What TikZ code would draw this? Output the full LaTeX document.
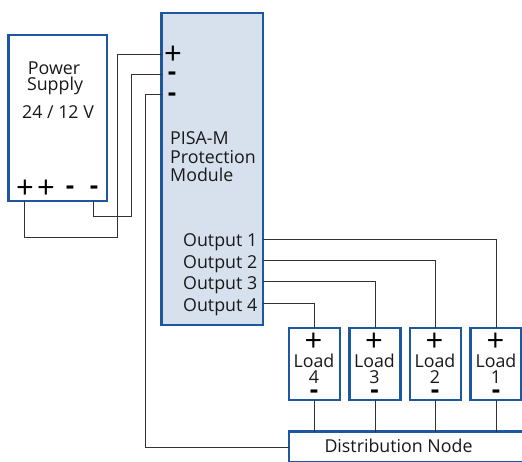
\documentclass[tikz,border=0pt]{standalone}
\usepackage{fontspec}
\setmainfont{Open Sans}
\definecolor{frame}{HTML}{1F56A0}
\definecolor{modfill}{HTML}{D7E1EE}
\definecolor{wire}{HTML}{333333}
\tikzset{
  x=1pt,y=-1pt,
  boxnode/.style={draw=frame,line width=2.6pt,fill=white,inner sep=0pt,outer sep=0pt,minimum width=#1},
  wireline/.style={draw=wire,line width=1pt},
  lbl/.style={font=\fontsize{17.8}{18}\selectfont,inner sep=0pt,text=black!90,anchor=base},
  lblw/.style={lbl,anchor=base west},
  plussign/.style={font=\fontsize{31}{31}\selectfont,inner sep=0pt,text=black,anchor=base},
  minussign/.style={font=\fontsize{26}{26}\selectfont\bfseries,inner sep=0pt,text=black,anchor=base},
}
\begin{document}
\begin{tikzpicture}
\useasboundingbox (0,0) rectangle (522,462);
\begin{scope}
\clip (0,0) rectangle (522,462);
\node[boxnode=98.5pt,minimum height=166pt] (ps) at (57.75,118) {};
\node[boxnode=101.5pt,fill=modfill,minimum height=312pt] (pm) at (212.25,169) {};
\node[boxnode=51pt,minimum height=72pt] (l4) at (314.5,364) {};
\node[boxnode=51pt,minimum height=72pt] (l3) at (375,364) {};
\node[boxnode=51pt,minimum height=72pt] (l2) at (435.5,364) {};
\node[boxnode=51pt,minimum height=72pt] (l1) at (496,364) {};
\node[boxnode=240pt,minimum height=30.8pt] (dn) at (409,446.9) {};
\end{scope}
% wires
\coordinate (pmplus) at (161.5,55);
\coordinate (pmmin1) at (161.5,75);
\coordinate (pmmin2) at (161.5,95);
\coordinate (psplus) at (24.5,201);
\coordinate (psmin) at (93.5,201);
\coordinate (o1) at (263,240);
\coordinate (o2) at (263,261);
\coordinate (o3) at (263,282);
\coordinate (o4) at (263,304);
\draw[wireline] (psplus) |- (117,237.5) |- (pmplus);
\draw[wireline] (psmin) |- (131.5,217) |- (pmmin1);
\draw[wireline] (pmmin2) -| (145.5,447) -- (dn.west |- 0,447);
\draw[wireline] (o1) -| (l1.north);
\draw[wireline] (o2) -| (l2.north);
\draw[wireline] (o3) -| (l3.north);
\draw[wireline] (o4) -| (l4.north);
\draw[wireline] (l4.south) -- (l4.south |- dn.north);
\draw[wireline] (l3.south) -- (l3.south |- dn.north);
\draw[wireline] (l2.south) -- (l2.south |- dn.north);
\draw[wireline] (l1.south) -- (l1.south |- dn.north);
% texts
\node[lbl] (t1) at (54,74.3) {Power};
\node[lbl] (t2) at (55,90.3) {Supply};
\node[lbl] (t3) at (58,118.2) {24 / 12 V};
\node[lblw] (t4) at (170,144.3) {PISA-M};
\node[lblw] (t5) at (170,163.3) {Protection};
\node[lblw] (t6) at (170,182) {Module};
\node[lblw] (a1) at (183,247) {Output 1};
\node[lblw] (a2) at (183,268.7) {Output 2};
\node[lblw] (a3) at (183,290) {Output 3};
\node[lblw] (a4) at (183,311.7) {Output 4};
\node[plussign] (s1) at (25,199) {+};
\node[plussign] (s2) at (46,199) {+};
\node[minussign] (s3) at (70,194.7) {-};
\node[minussign] (s4) at (94,194.7) {-};
\node[plussign] (s5) at (173,65) {+};
\node[minussign] (s6) at (172,80.7) {-};
\node[minussign] (s7) at (172,101.3) {-};
\foreach \n/\x in {4/314,3/374.5,2/435,1/496}{
  \node[plussign] (p\n) at (\x-0.5,352) {+};
  \node[lbl] (ll\n) at (\x,367) {Load};
  \node[lbl] (ln\n) at (\x,383.7) {\n};
  \node[minussign] (m\n) at (\x,398.5) {-};
}
\node[lbl] (dt) at (398.5,452.7) {Distribution Node};
\end{tikzpicture}
\end{document}
